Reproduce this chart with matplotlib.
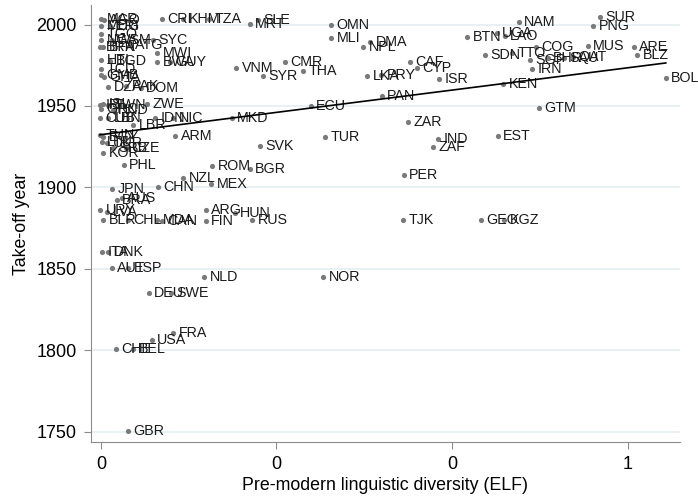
import matplotlib
matplotlib.use("Agg")
import matplotlib.pyplot as plt
import numpy as np

# country labels, pre-modern ELF, take-off year
codes = ["MAR", "AGO", "CRI", "KHM", "TZA", "MDG", "ERI", "TGO", "NGA", "WSM",
         "SYC", "BRN", "BFA", "ATG", "MWI", "HTI", "BGD", "BWA", "GUY", "TCD",
         "GMB", "GHA", "DZA", "PAK", "DOM",
         "IRL", "ISL", "TWN", "ZWE", "GRC", "HND", "CUB", "LBN", "IDN", "NIC",
         "LBR", "TUN", "EGY", "ARM", "LTU", "UKR", "SRB", "CZE", "KOR", "PHL",
         "MRT", "SLE", "OMN", "MLI", "VNM", "SYR", "CMR", "THA", "NPL", "DMA",
         "BTN", "UGA", "LAO", "SDN", "CAF", "CYP", "LKA", "PRY", "ISR", "PAN",
         "NAM", "SUR", "PNG", "COG", "TTO", "MUS", "ARE", "BLZ", "SGP", "BHR",
         "SAU", "QAT", "IRN", "KEN", "BOL", "ECU", "GTM", "ZAR", "TUR", "IND",
         "ZAF", "EST", "PER", "SVK", "BGR", "ROM", "MKD", "TJK", "GEO", "KGZ",
         "NOR", "RUS", "HUN", "ARG", "FIN", "JPN", "CHN", "NZL", "MEX", "BRA",
         "AUS", "URY", "LVA", "BLR", "CHL", "MDA", "CAN", "ITA", "DNK", "AUT",
         "ESP", "NLD", "DEU", "SWE", "FRA", "USA", "CHE", "BEL", "GBR"]
elf = [0.000, 0.007, 0.139, 0.187, 0.246, 0.000, 0.021, 0.000, 0.000, 0.025,
       0.118, -0.002, 0.005, 0.066, 0.128, 0.000, 0.021, 0.128, 0.157, 0.000,
       0.000, 0.007, 0.016, 0.057, 0.091,
       -0.002, 0.005, 0.016, 0.105, 0.000, 0.027, -0.002, 0.016, 0.123, 0.164,
       0.073, -0.002, 0.005, 0.169, 0.002, 0.014, 0.027, 0.057, 0.005, 0.052,
       0.339, 0.358, 0.524, 0.524, 0.308, 0.369, 0.419, 0.460, 0.597, 0.613,
       0.834, 0.902, 0.920, 0.875, 0.704, 0.720, 0.606, 0.638, 0.770, 0.640,
       0.952, 1.137, 1.121, 0.991, 0.936, 1.109, 1.214, 1.221, 0.977, 1.018,
       1.055, 1.075, 0.982, 0.916, 1.287, 0.478, 0.998, 0.699, 0.510, 0.768,
       0.756, 0.904, 0.690, 0.362, 0.339, 0.253, 0.298, 0.688, 0.866, 0.918,
       0.506, 0.344, 0.305, 0.239, 0.239, 0.025, 0.130, 0.187, 0.251, 0.036,
       0.048, -0.002, 0.014, 0.005, 0.062, 0.128, 0.139, 0.002, 0.016, 0.025,
       0.062, 0.235, 0.109, 0.159, 0.164, 0.116, 0.034, 0.073, 0.062]
year = [2003.1, 2002.5, 2003.1, 2003.1, 2003.1, 1999.4, 1999.4, 1993.9, 1990.8, 1990.2,
        1990.8, 1986.5, 1985.9, 1987.7, 1982.8, 1978.5, 1977.9, 1977.3, 1977.3, 1973.0,
        1969.3, 1968.1, 1961.9, 1962.5, 1961.3,
        1950.9, 1951.5, 1950.9, 1951.5, 1948.4, 1947.8, 1942.9, 1942.9, 1942.9, 1942.9,
        1938.6, 1932.4, 1931.2, 1931.8, 1928.1, 1927.5, 1924.4, 1924.4, 1921.4, 1914.0,
        2000.6, 2002.5, 2000, 1992, 1973.6, 1968.7, 1976.7, 1971.7, 1986.5, 1989,
        1992.6, 1995, 1993, 1981.6, 1976.7, 1973.6, 1968.7, 1969.3, 1966.8, 1956.4,
        2001.8, 2004.9, 1999.4, 1985.9, 1982.8, 1987.1, 1986.5, 1981.6, 1978.5, 1979.7,
        1979.7, 1980.3, 1972.4, 1963.8, 1967.4, 1950.2, 1949, 1940.4, 1931.2, 1930,
        1925, 1931.8, 1907.9, 1925.7, 1911.5, 1913.4, 1942.9, 1880.2, 1880.2, 1880.2,
        1845.2, 1880.2, 1884.5, 1886.4, 1879.6, 1899.3, 1900.5, 1906, 1902.3, 1892.5,
        1893.7, 1886.4, 1885.1, 1880.2, 1880.2, 1880.2, 1879.6, 1860.6, 1860.6, 1850.7,
        1850.7, 1845.2, 1835.4, 1835.4, 1810.8, 1806.5, 1801, 1801, 1750.6]

# linear fit
fit_intercept = 1932.4
fit_slope = 34.2

xticks = [0, 0.4, 0.8, 1.2]
xticklabels = ["0", "0", "0", "1"]
yticks = [1750, 1800, 1850, 1900, 1950, 2000]

plt.rcParams["font.family"] = ["Liberation Sans", "DejaVu Sans"]

fig = plt.figure(figsize=(6.98, 4.97), dpi=100)
ax = fig.add_axes([0.130, 0.111, 0.844, 0.879])

for yv in yticks:
    ax.axhline(yv, color="#e4edf1", lw=1.2, zorder=0)

ax.scatter(elf, year, s=14, color="#7a7a7a", zorder=2, linewidths=0)
for c, xv, yv in zip(codes, elf, year):
    ax.annotate(c, (xv, yv), xytext=(4, 0), textcoords="offset points",
                va="center", ha="left", fontsize=10.3, color="#1a1a1a", zorder=3)

xs = np.array([min(elf), max(elf)])
ax.plot(xs, fit_intercept + fit_slope * xs, color="black", lw=1.2, zorder=4)

ax.set_xlim(-0.023, 1.319)
ax.set_ylim(1743.9, 2012)
ax.set_xticks(xticks)
ax.set_xticklabels(xticklabels)
ax.set_yticks(yticks)
ax.tick_params(direction="out", length=5, color="#8c8c8c", labelsize=13,
               labelcolor="black", pad=5)
for s in ["top", "right"]:
    ax.spines[s].set_visible(False)
for s in ["left", "bottom"]:
    ax.spines[s].set_color("#8c8c8c")
ax.set_xlabel("Pre-modern linguistic diversity (ELF)", fontsize=12.8, labelpad=3)
ax.set_ylabel("Take-off year", fontsize=12.8, labelpad=5)

fig.savefig("out.png", dpi=100)
